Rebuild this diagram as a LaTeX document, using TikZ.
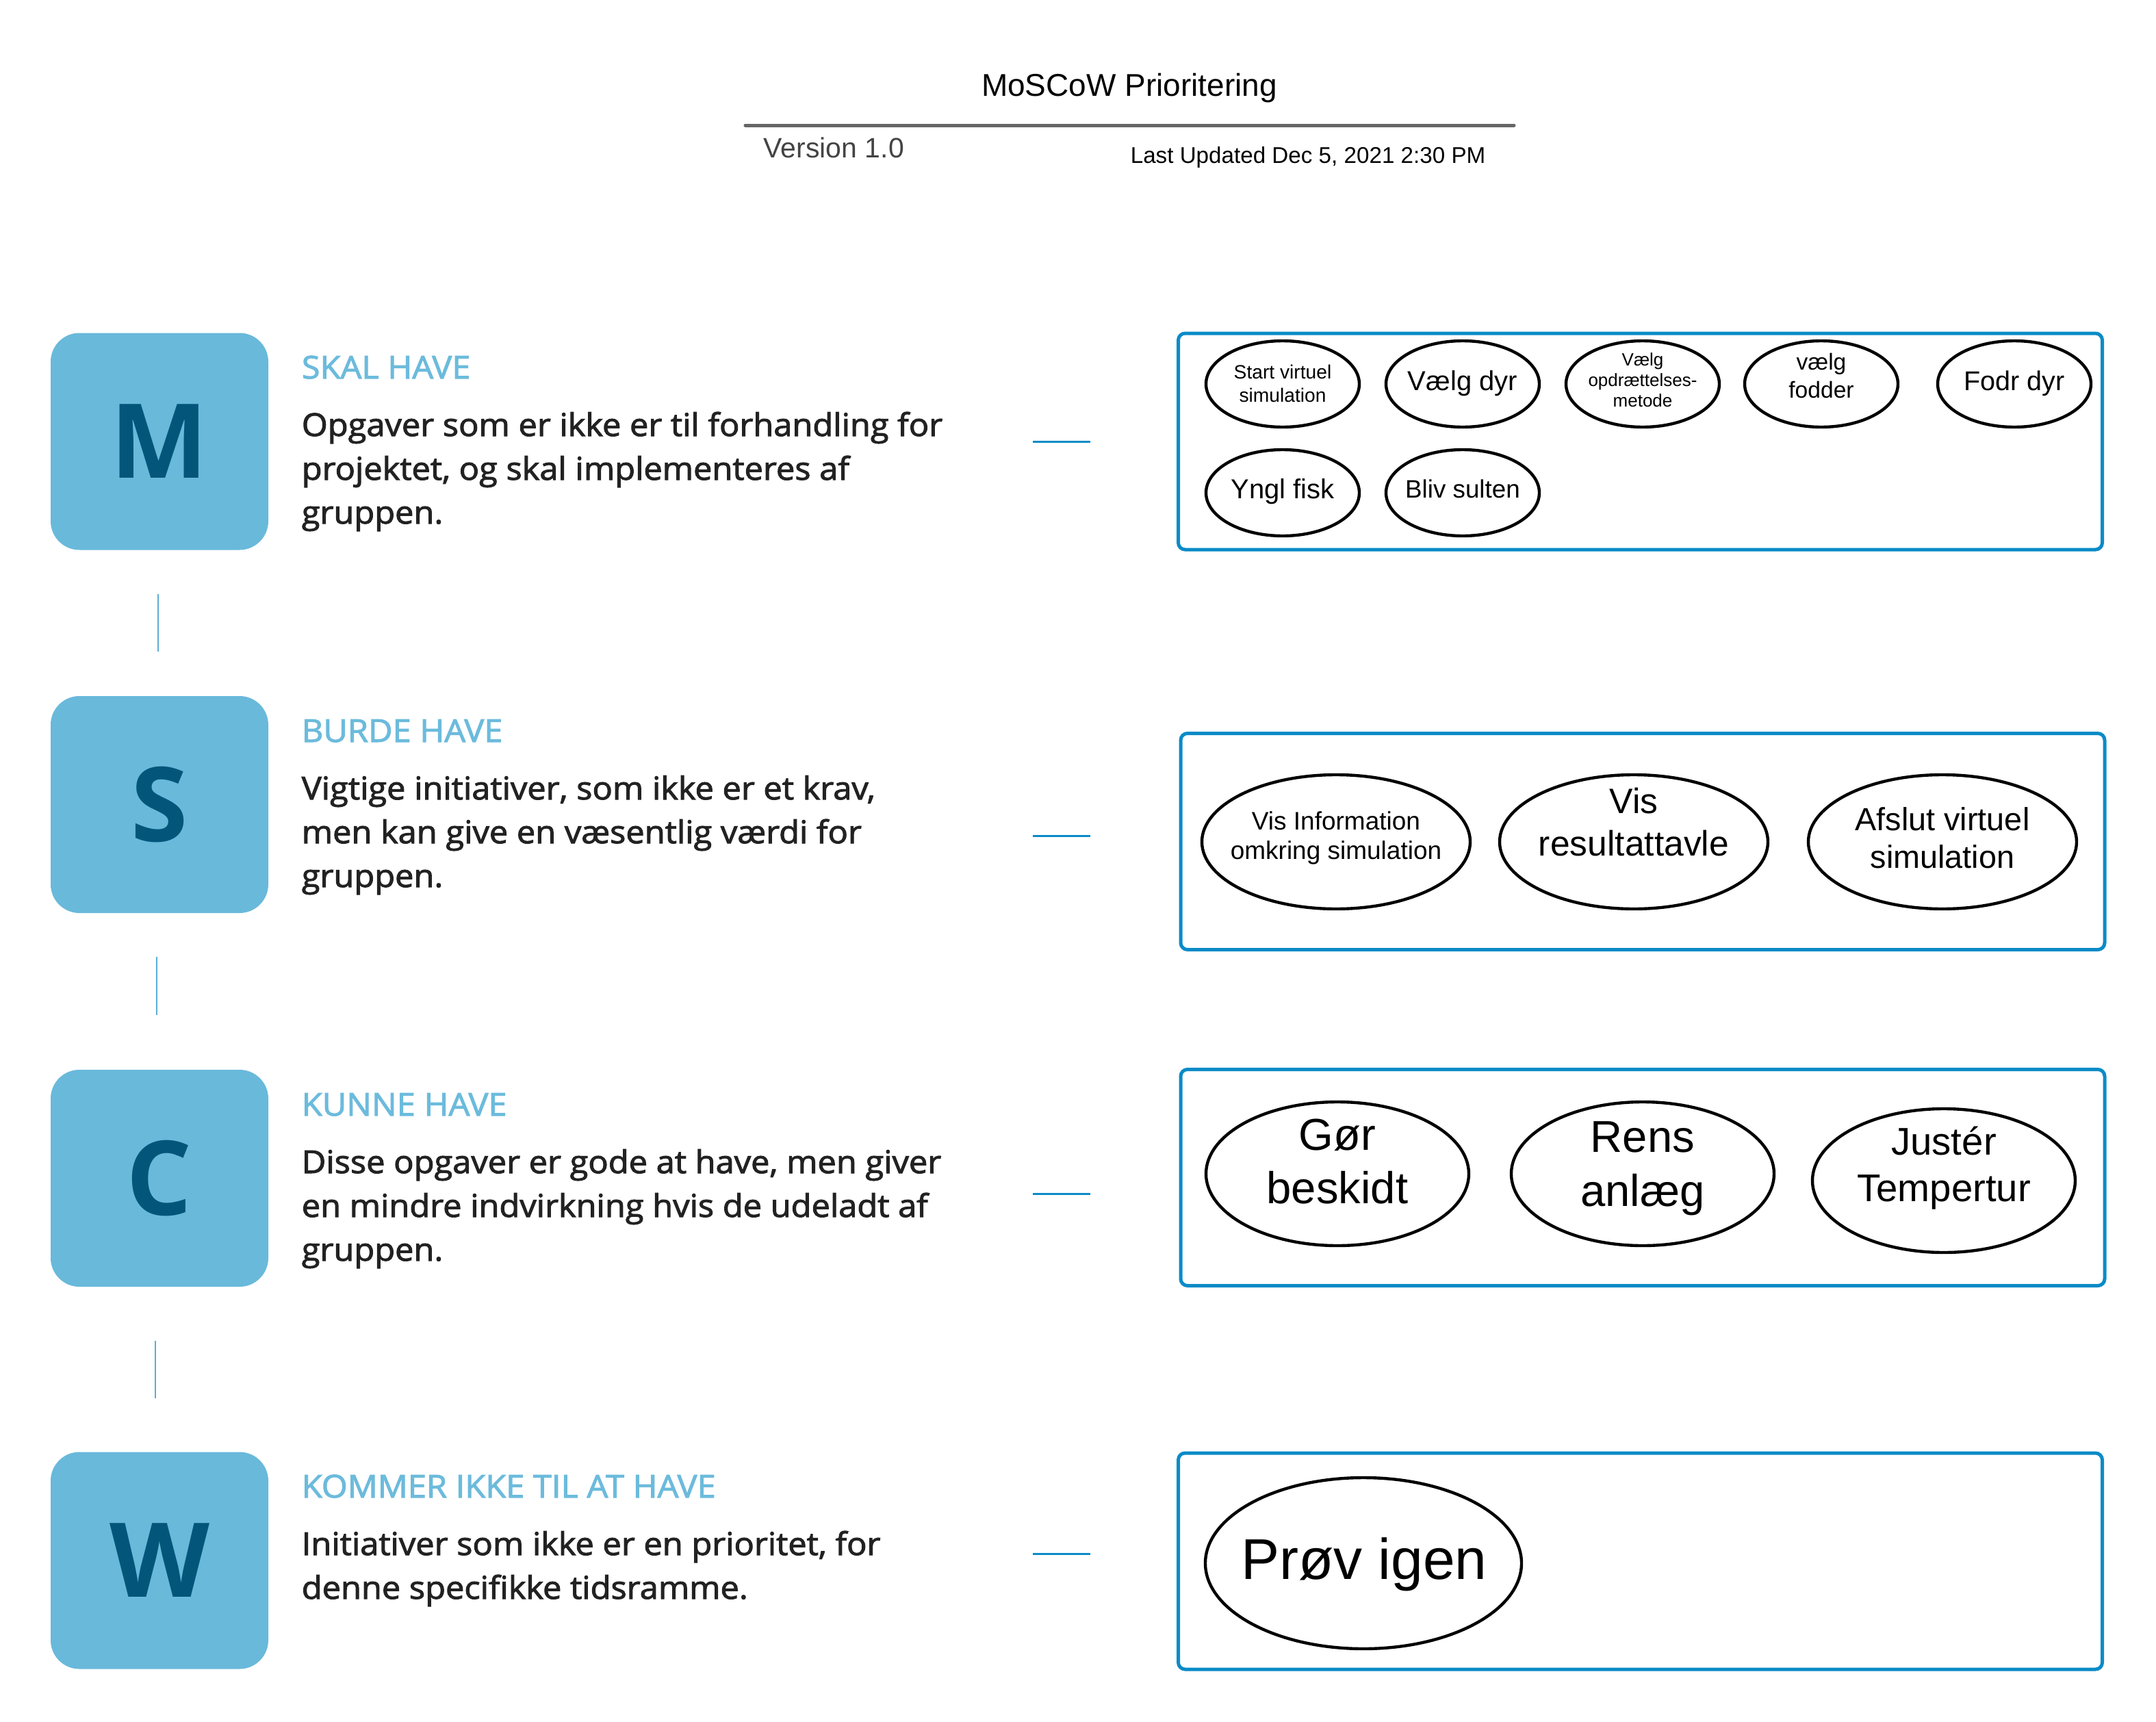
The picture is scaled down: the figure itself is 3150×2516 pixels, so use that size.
\documentclass[tikz,border=0pt]{standalone}
\usepackage{fontspec}
\setmainfont{Liberation Sans}
\newfontfamily\osfont{Open Sans}
\newfontfamily\ossemi{Open Sans}[FakeBold=2.2, FakeStretch=1.06]
\usetikzlibrary{shapes.geometric}
\definecolor{boxblue}{HTML}{69B9DB}
\definecolor{letterblue}{HTML}{03567A}
\definecolor{headblue}{HTML}{6CBBDC}
\definecolor{frameblue}{HTML}{0A8BC7}
\definecolor{stubblue}{HTML}{5AAED6}
\definecolor{bodygray}{HTML}{222222}
\definecolor{rulegray}{HTML}{666666}
\definecolor{vergray}{HTML}{444444}
\begin{document}
\begin{tikzpicture}[x=0.25pt,y=-0.25pt,
  letterbox/.style={fill=boxblue, rounded corners=10.5pt, minimum width=79.5pt, minimum height=79.25pt, inner sep=0pt,
    text=letterblue, font=\osfont\bfseries\fontsize{37.75}{40}\selectfont},
  hdr/.style={font=\ossemi\fontsize{11.5}{13}\selectfont, text=headblue, anchor=base west, inner sep=0pt},
  body/.style={font=\ossemi\fontsize{11.5}{13}\selectfont, text=bodygray, anchor=base west, inner sep=0pt},
  frame/.style={draw=frameblue, line width=1.25pt, rounded corners=2.5pt, minimum width=337.5pt, minimum height=79pt, inner sep=0pt},
  ell/.style={ellipse, draw=black, line width=1.1pt, inner sep=0pt},
  ellM/.style={ell, minimum width=56pt, minimum height=31.5pt},
  ellS/.style={ell, minimum width=98pt, minimum height=49pt},
  ellC/.style={ell, minimum width=96pt, minimum height=52.5pt},
  ellW/.style={ell, minimum width=115.5pt, minimum height=62.5pt},
  et/.style={anchor=base, inner sep=0pt, text=black},
  hstub/.style={draw=frameblue, line width=0.75pt},
  vstub/.style={draw=stubblue, line width=0.5pt}]
\useasboundingbox[fill=white] (0,0) rectangle (3150,2516);

% header
\node[anchor=base, inner sep=0pt, font=\fontsize{11.5}{13}\selectfont] (title) at (1650,140) {MoSCoW Prioritering};
\coordinate (ruleL) at (1089,183);
\coordinate (ruleR) at (2212,183);
\draw[rulegray, line width=1.25pt, line cap=round] (ruleL) -- (ruleR);
\node[anchor=base west, inner sep=0pt, text=vergray, font=\fontsize{10.25}{12}\selectfont] (version) at (1115,230) {Version 1.0};
\node[anchor=base west, inner sep=0pt, font=\fontsize{8.3}{10}\selectfont] (updated) at (1651,238) {Last Updated Dec 5, 2021 2:30 PM};

% letter boxes
\node[letterbox] (M) at (233,645) {M};
\node[letterbox] (S) at (233,1175.5) {S};
\node[letterbox] (C) at (233,1721.5) {C};
\node[letterbox] (W) at (233,2280) {W};

% vertical stubs
\coordinate (v1a) at (231,868); \coordinate (v1b) at (231,952);
\coordinate (v2a) at (229,1398); \coordinate (v2b) at (229,1483);
\coordinate (v3a) at (227,1959); \coordinate (v3b) at (227,2043);
\draw[vstub] (v1a) -- (v1b);
\draw[vstub] (v2a) -- (v2b);
\draw[vstub] (v3a) -- (v3b);

% M text
\node[hdr] (hM) at (440,553) {SKAL HAVE};
\node[body] (bM1) at (440,637) {Opgaver som er ikke er til forhandling for};
\node[body] (bM2) at (440,701) {projektet, og skal implementeres af};
\node[body] (bM3) at (440,765) {gruppen.};
% S text
\node[hdr] (hS) at (440,1084) {BURDE HAVE};
\node[body] (bS1) at (440,1168) {Vigtige initiativer, som ikke er et krav,};
\node[body] (bS2) at (440,1232) {men kan give en væsentlig værdi for};
\node[body] (bS3) at (440,1296) {gruppen.};
% C text
\node[hdr] (hC) at (440,1630) {KUNNE HAVE};
\node[body] (bC1) at (440,1714) {Disse opgaver er gode at have, men giver};
\node[body] (bC2) at (440,1778) {en mindre indvirkning hvis de udeladt af};
\node[body] (bC3) at (440,1842) {gruppen.};
% W text
\node[hdr] (hW) at (440,2188) {KOMMER IKKE TIL AT HAVE};
\node[body] (bW1) at (440,2272) {Initiativer som ikke er en prioritet, for};
\node[body] (bW2) at (440,2336) {denne specifikke tidsramme.};

% horizontal stubs
\coordinate (h1a) at (1509,645); \coordinate (h1b) at (1593,645);
\coordinate (h2a) at (1509,1221); \coordinate (h2b) at (1593,1221);
\coordinate (h3a) at (1509,1744); \coordinate (h3b) at (1593,1744);
\coordinate (h4a) at (1509,2270); \coordinate (h4b) at (1593,2270);
\draw[hstub] (h1a) -- (h1b);
\draw[hstub] (h2a) -- (h2b);
\draw[hstub] (h3a) -- (h3b);
\draw[hstub] (h4a) -- (h4b);

% frames
\node[frame] (fM) at (2396.5,645) {};
\node[frame] (fS) at (2400,1229.5) {};
\node[frame] (fC) at (2400,1720.5) {};
\node[frame] (fW) at (2396.5,2281) {};

% M ellipses
\node[ellM] (e11) at (1874,561) {};
\node[ellM] (e12) at (2137,561) {};
\node[ellM] (e13) at (2400,561) {};
\node[ellM] (e14) at (2661,561) {};
\node[ellM] (e15) at (2943,561) {};
\node[ellM] (e21) at (1874,720) {};
\node[ellM] (e22) at (2137,720) {};
\node[et, font=\fontsize{7.05}{8}\selectfont] (t11a) at (1874,553) {Start virtuel};
\node[et, font=\fontsize{7.05}{8}\selectfont] (t11b) at (1874,587) {simulation};
\node[et, font=\fontsize{10}{12}\selectfont] (t12) at (2137,570) {Vælg dyr};
\node[et, font=\fontsize{6.5}{8}\selectfont] (t13a) at (2400,534) {Vælg};
\node[et, font=\fontsize{6.5}{8}\selectfont] (t13b) at (2400,564) {opdrættelses-};
\node[et, font=\fontsize{6.5}{8}\selectfont] (t13c) at (2400,594) {metode};
\node[et, font=\fontsize{8.4}{10}\selectfont] (t14a) at (2661,540) {vælg};
\node[et, font=\fontsize{8.4}{10}\selectfont] (t14b) at (2661,581) {fodder};
\node[et, font=\fontsize{9.9}{12}\selectfont] (t15) at (2943,570) {Fodr dyr};
\node[et, font=\fontsize{10}{12}\selectfont] (t21) at (1874,728) {Yngl fisk};
\node[et, font=\fontsize{9.2}{11}\selectfont] (t22) at (2137,727) {Bliv sulten};

% S ellipses
\node[ellS] (s1) at (1952,1230) {};
\node[ellS] (s2) at (2387,1230) {};
\node[ellS] (s3) at (2838,1230) {};
\node[et, font=\fontsize{9.25}{11}\selectfont] (ts1a) at (1952,1212) {Vis Information};
\node[et, font=\fontsize{9.25}{11}\selectfont] (ts1b) at (1952,1255) {omkring simulation};
\node[et, font=\fontsize{12.9}{15}\selectfont] (ts2a) at (2387,1188) {Vis};
\node[et, font=\fontsize{12.9}{15}\selectfont] (ts2b) at (2387,1250) {resultattavle};
\node[et, font=\fontsize{11.7}{14}\selectfont] (ts3a) at (2838,1213) {Afslut virtuel};
\node[et, font=\fontsize{11.7}{14}\selectfont] (ts3b) at (2838,1268) {simulation};

% C ellipses
\node[ellC] (c1) at (1954,1715) {};
\node[ellC] (c2) at (2400,1715) {};
\node[ellC] (c3) at (2840,1725) {};
\node[et, font=\fontsize{16.3}{19}\selectfont] (tc1a) at (1954,1680) {Gør};
\node[et, font=\fontsize{16.3}{19}\selectfont] (tc1b) at (1954,1758) {beskidt};
\node[et, font=\fontsize{16.3}{19}\selectfont] (tc2a) at (2400,1683) {Rens};
\node[et, font=\fontsize{16.3}{19}\selectfont] (tc2b) at (2400,1762) {anlæg};
\node[et, font=\fontsize{14.1}{17}\selectfont] (tc3a) at (2840,1687) {Justér};
\node[et, font=\fontsize{14.1}{17}\selectfont] (tc3b) at (2840,1755) {Tempertur};

% W ellipse
\node[ellW] (w1) at (1992,2284) {};
\node[et, font=\fontsize{21}{25}\selectfont] (tw1) at (1993,2307) {Prøv igen};
\end{tikzpicture}
\end{document}
